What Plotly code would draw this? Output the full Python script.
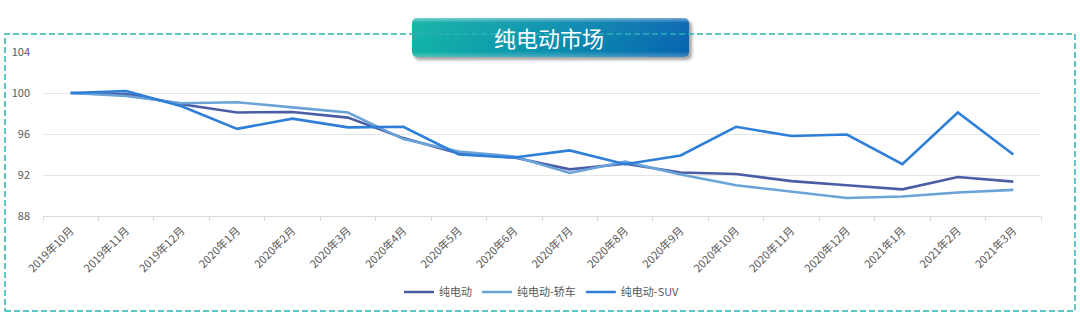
import base64
import plotly.graph_objects as go

# Monthly index values (2019年10月 = 100)
months = ["2019年10月", "2019年11月", "2019年12月", "2020年1月", "2020年2月", "2020年3月",
          "2020年4月", "2020年5月", "2020年6月", "2020年7月", "2020年8月", "2020年9月",
          "2020年10月", "2020年11月", "2020年12月", "2021年1月", "2021年2月", "2021年3月"]

ev_total = [100.0, 99.9, 98.9, 98.1, 98.15, 97.6, 95.6, 94.1, 93.7, 92.55, 93.1, 92.25,
            92.1, 91.4, 91.0, 90.6, 91.8, 91.35]
ev_sedan = [100.0, 99.7, 99.0, 99.1, 98.6, 98.1, 95.5, 94.3, 93.8, 92.2, 93.3, 92.05,
            91.0, 90.4, 89.75, 89.9, 90.3, 90.55]
ev_suv = [100.0, 100.2, 98.7, 96.5, 97.5, 96.65, 96.7, 94.0, 93.7, 94.4, 93.05, 93.9,
          96.7, 95.8, 95.95, 93.05, 98.1, 94.0]

series_names = ["纯电动", "纯电动-轿车", "纯电动-SUV"]
series_colors = ["#4a5ea6", "#6aa3d8", "#2f7fd8"]
y_ticks = [88, 92, 96, 100, 104]
chart_title = "纯电动市场"

FONT = "Microsoft YaHei, Noto Sans CJK SC, sans-serif"

fig = go.Figure()
for name, vals, col in zip(series_names, [ev_total, ev_sedan, ev_suv], series_colors):
    fig.add_trace(go.Scatter(x=months, y=vals, name=name, mode="lines",
                             line=dict(color=col, width=2.6)))

# Plot area geometry in pixels (used to place the frame and the title badge)
W, H = 1080, 324
L, R, T, B = 43, 39, 52, 108
pw, ph = W - L - R, H - T - B


def px_x(x):
    return (x - L) / pw


def px_y(y):
    return (H - B - y) / ph


# Dashed teal frame around the whole chart
fig.add_shape(type="rect", xref="paper", yref="paper",
              x0=px_x(5), x1=px_x(1075), y0=px_y(311), y1=px_y(34),
              line=dict(color="#2db3b3", width=1.5, dash="6px,3px"), layer="above")

# Gradient title badge
badge_svg = """<svg xmlns='http://www.w3.org/2000/svg' width='285' height='46' viewBox='0 0 285 46'>
<defs>
<linearGradient id='g' x1='0' y1='0' x2='1' y2='0'>
<stop offset='0' stop-color='#10b2a5'/><stop offset='0.5' stop-color='#0a8fae'/><stop offset='1' stop-color='#0664b0'/>
</linearGradient>
<linearGradient id='h' x1='0' y1='0' x2='0' y2='1'>
<stop offset='0' stop-color='#ffffff' stop-opacity='0.45'/><stop offset='0.12' stop-color='#ffffff' stop-opacity='0.05'/>
<stop offset='0.85' stop-color='#ffffff' stop-opacity='0'/><stop offset='1' stop-color='#ffffff' stop-opacity='0.25'/>
</linearGradient>
<filter id='s' x='-10%' y='-20%' width='120%' height='160%'><feGaussianBlur stdDeviation='1.6'/></filter>
</defs>
<rect x='3' y='4' width='278' height='39' rx='5' fill='#000' opacity='0.35' filter='url(#s)'/>
<rect x='1' y='1' width='277' height='39' rx='5' fill='url(#g)'/>
<rect x='1' y='1' width='277' height='39' rx='5' fill='url(#h)'/>
</svg>"""
badge_uri = "data:image/svg+xml;base64," + base64.b64encode(badge_svg.encode()).decode()
fig.add_layout_image(source=badge_uri, xref="paper", yref="paper",
                     x=px_x(411), y=px_y(17), sizex=285 / pw, sizey=46 / ph,
                     xanchor="left", yanchor="top", sizing="stretch", layer="above")
fig.add_annotation(text=chart_title, xref="paper", yref="paper",
                   x=px_x(549), y=px_y(37), xanchor="center", yanchor="middle",
                   showarrow=False, font=dict(family=FONT, size=22, color="#ffffff"))

fig.update_layout(
    width=W, height=H,
    margin=dict(l=L, r=R, t=T, b=B, pad=0),
    paper_bgcolor="#ffffff", plot_bgcolor="#ffffff",
    font=dict(family=FONT, color="#595959", size=11),
    showlegend=True,
    legend=dict(orientation="h", x=0.5, xanchor="center", y=px_y(292), yanchor="middle",
                font=dict(size=11, color="#595959"), itemwidth=30,
                bgcolor="rgba(0,0,0,0)"),
    xaxis=dict(type="category", range=[-0.5, len(months) - 0.5], tickangle=-45,
               showgrid=False, showline=True, linecolor="#d9d9d9", linewidth=1,
               ticks="outside", tickson="boundaries", ticklen=4, tickcolor="#d9d9d9",
               ticklabelstandoff=3,
               tickfont=dict(size=11, color="#595959"), zeroline=False),
    yaxis=dict(range=[88, 104], tickvals=y_ticks, showgrid=True, gridcolor="#e6e6e6",
               gridwidth=1, showline=False, zeroline=False, ticks="",
               ticklabelstandoff=12, tickfont=dict(size=11, color="#595959")),
)

fig.write_html("out.html")
